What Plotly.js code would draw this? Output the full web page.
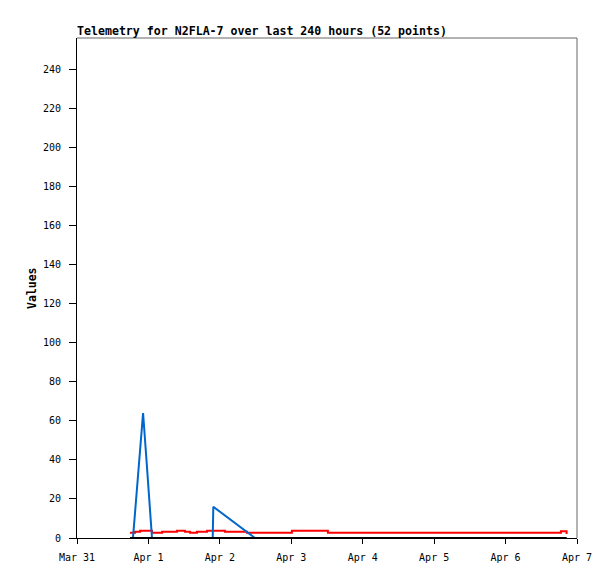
<!DOCTYPE html>
<html>
<head>
<meta charset="utf-8">
<script src="https://cdn.plot.ly/plotly-3.0.1.min.js"></script>
<style>
html,body{margin:0;padding:0;background:#fff;}
#chart{width:615px;height:579px;}
</style>
</head>
<body>
<div id="chart"></div>
<script>
const times = [
 "2024-03-31 17:48","2024-03-31 18:48","2024-03-31 19:30","2024-03-31 20:24","2024-03-31 21:12",
 "2024-03-31 22:12","2024-03-31 23:12","2024-04-01 00:12","2024-04-01 01:12","2024-04-01 02:54",
 "2024-04-01 04:36","2024-04-01 06:12","2024-04-01 07:54","2024-04-01 09:36","2024-04-01 11:00",
 "2024-04-01 12:18","2024-04-01 14:00","2024-04-01 15:06","2024-04-01 16:18","2024-04-01 18:00",
 "2024-04-01 19:42","2024-04-01 20:42","2024-04-01 21:36","2024-04-01 21:48","2024-04-01 23:30",
 "2024-04-02 01:42","2024-04-02 03:30","2024-04-02 05:18","2024-04-02 07:12","2024-04-02 09:06",
 "2024-04-02 10:30","2024-04-02 11:48","2024-04-02 13:42","2024-04-02 15:48","2024-04-02 17:54",
 "2024-04-02 20:00","2024-04-02 22:06","2024-04-03 00:12","2024-04-03 02:36","2024-04-03 05:00",
 "2024-04-03 07:24","2024-04-03 09:54","2024-04-03 12:18","2024-04-04 00:00","2024-04-04 14:00",
 "2024-04-05 04:00","2024-04-05 18:00","2024-04-06 07:00","2024-04-06 18:36","2024-04-06 19:30",
 "2024-04-06 20:00","2024-04-06 20:30"
];
const blueValues = [
 0,0,13,30,45,64,43,21,0,0,
 0,0,0,0,0,0,0,0,0,0,
 0,0,0,16,14.1,11.5,9.5,7.4,5.3,3.1,
 1.5,0,0,0,0,0,0,0,0,0,
 0,0,0,0,0,0,0,0,0,0,
 0,0
];
const redValues = [
 2.7,2.7,3.2,3.2,3.7,3.7,3.7,3.7,2.7,2.7,
 3.2,3.2,3.2,3.7,3.7,3.2,2.7,2.7,3.2,3.2,
 3.7,3.7,3.7,3.7,3.7,3.2,3.2,3.2,3.2,2.7,
 2.7,2.7,2.7,2.7,2.7,2.7,2.7,3.7,3.7,3.7,
 3.7,3.7,2.7,2.7,2.7,2.7,2.7,2.7,3.4,3.4,
 3.4,2.0
];
const blackValues = times.map(() => 0);
const xTickStart = "2024-03-31";
const xRange = ["2024-03-31 00:00","2024-04-07 00:00"];
const yRange = [0, 256];
const titleText = "Telemetry for N2FLA-7 over last 240 hours (52 points)";
const yTitleText = "Values";

const mono = "DejaVu Sans Mono, monospace";
const traces = [
  {x: times, y: redValues, type: "scatter", mode: "lines", line: {color: "#ff0000", width: 2, shape: "hv"}, hoverinfo: "skip"},
  {x: times, y: blueValues, type: "scatter", mode: "lines", line: {color: "#0066cc", width: 2}, hoverinfo: "skip"},
  {x: times, y: blackValues, type: "scatter", mode: "lines", line: {color: "#000000", width: 2}, hoverinfo: "skip"}
];
const layout = {
  width: 615, height: 579,
  margin: {l: 77, r: 38, t: 38, b: 41},
  paper_bgcolor: "#fff", plot_bgcolor: "#fff",
  showlegend: false,
  font: {family: mono, size: 10, color: "#000"},
  title: {text: titleText, font: {family: mono, size: 11.6, weight: "bold", color: "#000"},
          x: 77/615, xref: "container", xanchor: "left", y: 1 - 31/579, yref: "container", yanchor: "middle"},
  xaxis: {type: "date", range: xRange, tick0: xTickStart, dtick: 86400000, tickformat: "%b %-d",
          showgrid: false, zeroline: false, showline: true, linecolor: "#000", linewidth: 1,
          ticks: "outside", ticklen: 5, tickcolor: "#000", tickwidth: 1, ticklabelstandoff: 5,
          tickfont: {family: mono, size: 10, color: "#000"}, fixedrange: true},
  yaxis: {range: yRange, tick0: 0, dtick: 20, showgrid: false, zeroline: false,
          showline: true, linecolor: "#000", linewidth: 1,
          ticks: "outside", ticklen: 7, tickcolor: "#000", tickwidth: 1, ticklabelstandoff: 6,
          tickfont: {family: mono, size: 10, color: "#000"}, fixedrange: true},
  shapes: [
    {type: "line", xref: "paper", yref: "paper", x0: 0, x1: 1, y0: 1, y1: 1, line: {color: "#666", width: 1}},
    {type: "line", xref: "paper", yref: "paper", x0: 1, x1: 1, y0: 0, y1: 1, line: {color: "#666", width: 1}}
  ],
  annotations: [
    {text: yTitleText, xref: "paper", yref: "paper", x: (32 - 77) / 500, y: 0.5, textangle: -90,
     showarrow: false, xanchor: "center", yanchor: "middle",
     font: {family: mono, size: 11.5, weight: "bold", color: "#000"}}
  ]
};
Plotly.newPlot("chart", traces, layout, {displayModeBar: false, staticPlot: true});
</script>
</body>
</html>
